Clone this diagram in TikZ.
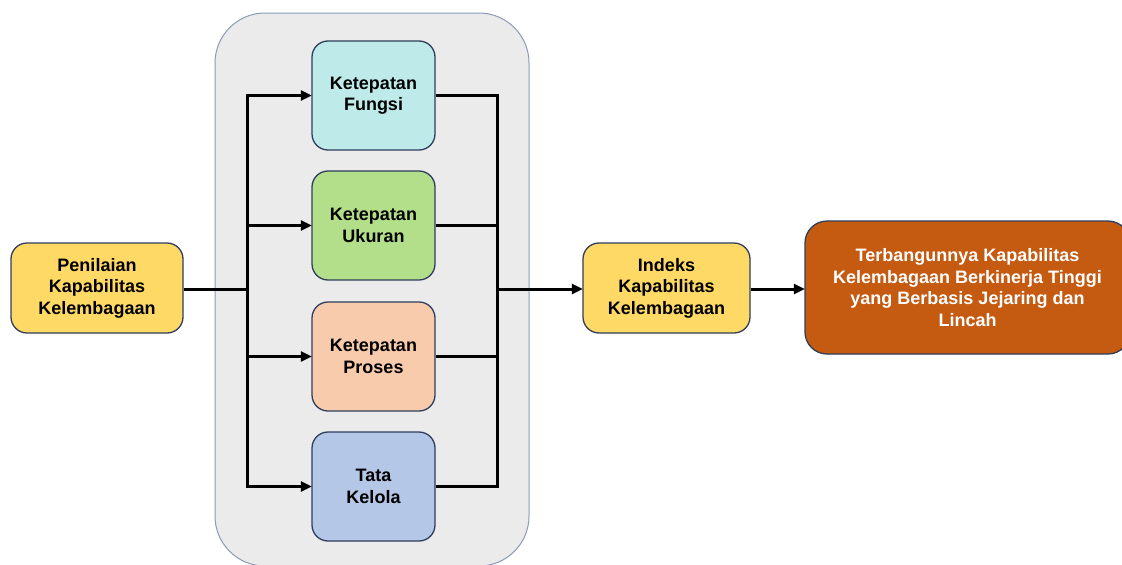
\documentclass[tikz,border=0pt]{standalone}
\usepackage{fontspec}
\setmainfont{Liberation Sans}
\usetikzlibrary{arrows.meta}
\definecolor{bggray}{HTML}{EBEBEB}
\definecolor{bgborder}{HTML}{8A9AB4}
\definecolor{nborder}{HTML}{2E3E5C}
\definecolor{cyellow}{HTML}{FFD966}
\definecolor{ccyan}{HTML}{BEEBEA}
\definecolor{cgreen}{HTML}{B3DE8A}
\definecolor{cpeach}{HTML}{F8CBAD}
\definecolor{cblue}{HTML}{B4C7E7}
\definecolor{corange}{HTML}{C55A11}
\tikzset{
  box/.style={draw=nborder, line width=1.3pt, rounded corners=16pt, align=center,
    font=\fontsize{18}{21.5}\selectfont\bfseries, inner sep=0pt},
  smallbox/.style={box, minimum width=123pt, minimum height=109pt},
  sidebox/.style={box, fill=cyellow, minimum height=90pt},
  conn/.style={line width=3pt, black},
  arr/.style={conn, -{Triangle[length=11pt,width=10pt]}, shorten >=-0.5pt},
}
\begin{document}
\begin{tikzpicture}[x=1pt,y=-1pt]
\useasboundingbox (0,0) rectangle (1122,565);
% container
\draw[fill=bggray, draw=bgborder, line width=1pt, rounded corners=50pt] (215,13) rectangle (529,566);
% nodes
\node[sidebox, minimum width=172pt] (pen) at (97,288) {Penilaian\\Kapabilitas\\Kelembagaan};
\node[smallbox, fill=ccyan] (kf) at (373.5,95.5) {Ketepatan\\Fungsi};
\node[smallbox, fill=cgreen] (ku) at (373.5,225.5) {Ketepatan\\Ukuran};
\node[smallbox, fill=cpeach] (kp) at (373.5,356.5) {Ketepatan\\Proses};
\node[smallbox, fill=cblue] (tk) at (373.5,486.5) {Tata\\Kelola};
\node[sidebox, minimum width=167pt] (idx) at (666.5,288) {Indeks\\Kapabilitas\\Kelembagaan};
\node[box, fill=corange, text=white, minimum width=325pt, minimum height=133pt, rounded corners=22pt] (out) at (967.5,287.5) {Terbangunnya Kapabilitas\\Kelembagaan Berkinerja Tinggi\\yang Berbasis Jejaring dan\\Lincah};
% junctions
\coordinate (jl) at (247,289);
\coordinate (jr) at (497,289);
% connectors
\draw[conn] (pen.east |- jl) -- (jl);
\draw[arr] (jl) |- (kf.west);
\draw[arr] (jl) |- (ku.west);
\draw[arr] (jl) |- (kp.west);
\draw[arr] (jl) |- (tk.west);
\draw[conn] (kf.east) -| (jr);
\draw[conn] (ku.east) -| (jr);
\draw[conn] (kp.east) -| (jr);
\draw[conn] (tk.east) -| (jr);
\draw[arr] (jr) -- (idx.west |- jr);
\draw[arr] (idx.east |- jr) -- (out.west |- jr);
\end{tikzpicture}
\end{document}
